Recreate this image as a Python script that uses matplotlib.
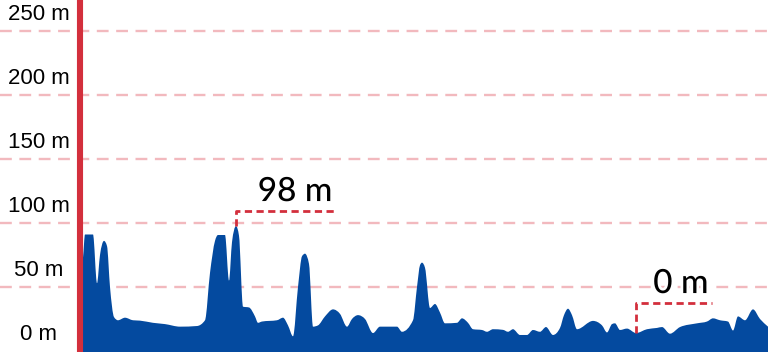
import matplotlib
matplotlib.use("Agg")
import matplotlib.pyplot as plt
import matplotlib.patheffects as pe
from matplotlib.path import Path
from matplotlib.patches import PathPatch
import numpy as np

# distance along route (km) and elevation (m)
distance_km = [0.00, 0.15, 0.25, 0.65, 0.85, 1.00, 1.20, 1.35, 1.50, 1.70,
               1.90, 2.25, 2.65, 3.00, 3.65, 4.25, 5.00, 5.85, 6.25, 6.50,
               6.75, 6.90, 7.25, 7.45, 7.60, 7.80, 7.95, 8.15, 8.45, 8.75,
               8.90, 9.10, 9.85, 10.15, 10.40, 10.65, 10.90, 11.10, 11.25, 11.45,
               11.65, 11.90, 12.25, 12.65, 13.00, 13.35, 13.60, 13.90, 14.25, 14.65,
               15.00, 15.85, 16.10, 16.65, 16.85, 17.00, 17.10, 17.25, 17.50, 17.75,
               18.00, 18.25, 18.85, 19.10, 19.40, 19.65, 20.10, 20.35, 20.65, 21.15,
               21.40, 21.65, 22.00, 22.35, 22.65, 23.00, 23.30, 23.65, 24.00, 24.20,
               24.40, 24.60, 24.85, 25.65, 26.10, 26.35, 26.60, 26.75, 27.00, 27.35,
               27.80, 28.35, 28.85, 29.10, 29.50, 30.00, 30.85, 31.35, 31.65, 32.00,
               32.40, 32.65, 32.90, 33.25, 33.65, 34.00, 34.40]
elevation_m = [60.0, 73.0, 91.0, 91.0, 53.0, 75.0, 86.0, 82.0, 50.0, 26.5,
               24.0, 26.0, 24.0, 23.7, 22.0, 21.0, 19.0, 19.5, 24.0, 61.0,
               86.0, 90.6, 90.6, 55.0, 85.0, 97.6, 90.0, 34.6, 34.0, 27.0,
               22.0, 23.0, 24.0, 26.0, 20.0, 11.5, 50.0, 74.0, 76.0, 68.0,
               19.0, 20.0, 27.0, 32.5, 29.0, 19.0, 25.0, 28.0, 25.0, 14.0,
               19.0, 19.0, 15.0, 24.0, 50.0, 67.0, 69.0, 65.0, 33.6, 36.7,
               30.0, 21.6, 22.0, 25.5, 22.0, 17.0, 16.4, 15.0, 17.0, 16.5,
               15.0, 17.0, 12.5, 12.5, 16.4, 15.0, 18.7, 12.5, 18.0, 28.0,
               33.0, 28.0, 17.0, 23.5, 20.0, 14.5, 21.0, 21.6, 16.4, 17.5,
               14.0, 17.0, 18.0, 18.7, 13.5, 18.7, 21.6, 23.0, 25.5, 24.0,
               23.0, 16.0, 27.0, 24.0, 32.5, 25.0, 19.0]

y_ticks = [0, 50, 100, 150, 200, 250]
y_tick_labels = ["0 m", "50 m", "100 m", "150 m", "200 m", "250 m"]

# annotations: (distance of point, elevation of point, label)
ann_max = (7.80, 97.6, "98 m")
ann_min = (27.80, 14.0, "0 m")

BLUE = "#044a9f"
RED = "#d32f3c"
GRID = "#f2b9be"


def monotone_area_path(xs, ys, base):
    """Smooth monotone-X cubic path through the points, closed to the base."""
    xs = np.asarray(xs, float)
    ys = np.asarray(ys, float)
    h = np.diff(xs)
    s = np.diff(ys) / h
    n = len(xs)
    t = np.zeros(n)
    t[0], t[-1] = s[0], s[-1]
    for i in range(1, n - 1):
        s0, s1 = s[i - 1], s[i]
        if s0 * s1 <= 0:
            t[i] = 0.0
        else:
            p = (s0 * h[i] + s1 * h[i - 1]) / (h[i - 1] + h[i])
            t[i] = np.sign(s0) * min(abs(s0), abs(s1), 0.5 * abs(p)) * 2
    verts = [(xs[0], base), (xs[0], ys[0])]
    codes = [Path.MOVETO, Path.LINETO]
    for i in range(n - 1):
        d = h[i] / 3.0
        verts += [(xs[i] + d, ys[i] + t[i] * d),
                  (xs[i + 1] - d, ys[i + 1] - t[i + 1] * d),
                  (xs[i + 1], ys[i + 1])]
        codes += [Path.CURVE4] * 3
    verts += [(xs[-1], base), (xs[0], base)]
    codes += [Path.LINETO, Path.CLOSEPOLY]
    return Path(verts, codes)


fig = plt.figure(figsize=(7.68, 3.52), dpi=100)
ax = fig.add_axes([0, 0, 1, 1])
ax.set_xlim(-4.0, 34.4)
ax.set_ylim(-0.8, 274.2)
ax.axis("off")

for tk in y_ticks[1:]:
    ax.axhline(tk, color=GRID, lw=1.7, ls=(0, (5.0, 3.2)), zorder=1)

ax.add_patch(PathPatch(monotone_area_path(distance_km, elevation_m, -5),
                       facecolor=BLUE, edgecolor="none", zorder=2))

ax.axvline(0, color=RED, lw=4.4, zorder=5)

for tk, lab in zip(y_ticks, y_tick_labels):
    ax.annotate(lab, xy=(-4.0, tk), xycoords="data", xytext=(38.5, 16),
                textcoords="offset pixels", ha="center", va="center",
                fontsize=16, family="Liberation Sans", color="black", zorder=6)


def leader(pt, dy_px, dx_px):
    x0, y0, txt = pt
    tr = ax.transData
    px, py = tr.transform((x0, y0))
    inv = tr.inverted()
    xa, ya = inv.transform((px, py + dy_px))
    xb, yb = inv.transform((px + dx_px, py + dy_px))
    ax.plot([x0, xa, xb], [y0, ya, yb], color=RED, lw=2.0,
            ls=(0, (2.6, 1.6)), zorder=6)
    xt, yt = inv.transform((px + dx_px * 0.59, py + dy_px + 19))
    ax.text(xt, yt, txt, ha="center", va="center", fontsize=24,
            family="Lato", fontweight="medium", color="black", zorder=7,
            path_effects=[pe.withStroke(linewidth=4, foreground="white")])


leader(ann_max, 15, 100)
leader(ann_min, 30, 76)

fig.savefig("out.png", dpi=100)
